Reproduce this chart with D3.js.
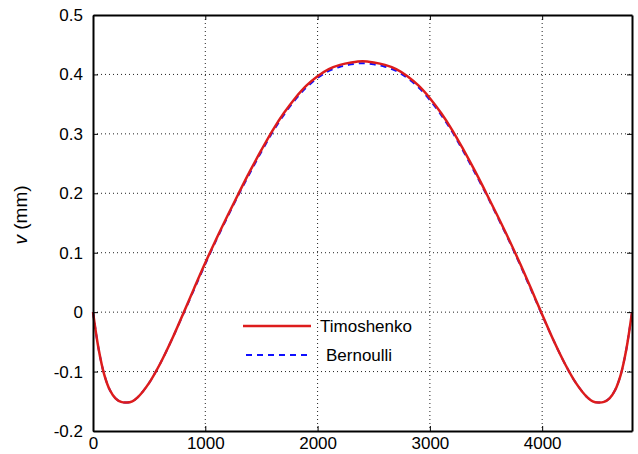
<!DOCTYPE html>
<html>
<head>
<meta charset="utf-8">
<script src="https://cdn.jsdelivr.net/npm/d3@7"></script>
<style>
  body { margin: 0; background: #fff; }
  text { font-family: "Liberation Sans", Arial, sans-serif; }
</style>
</head>
<body>
<div id="canvas"></div>
<script>
// position along the beam (mm)
var X = [0, 50, 100, 150, 200, 250, 300, 350, 400, 500, 600, 700, 800, 900, 1000,
         1100, 1200, 1300, 1400, 1500, 1600, 1700, 1800, 1900, 2000, 2100, 2200, 2300, 2400,
         2500, 2600, 2700, 2800, 2900, 3000, 3100, 3200, 3300, 3400, 3500, 3600, 3700, 3800,
         3900, 4000, 4100, 4200, 4300, 4400, 4450, 4500, 4550, 4600, 4650, 4700, 4750, 4800]

var Timoshenko = [0, -0.062, -0.105, -0.131, -0.145, -0.151, -0.152, -0.150, -0.143, -0.119, -0.086, -0.047, -0.004, 0.040, 0.083,
                  0.124, 0.163, 0.201, 0.238, 0.273, 0.306, 0.335, 0.360, 0.381, 0.397, 0.409, 0.416, 0.420, 0.422,
                  0.420, 0.416, 0.409, 0.397, 0.381, 0.360, 0.335, 0.306, 0.273, 0.238, 0.201, 0.163, 0.124, 0.083,
                  0.040, -0.004, -0.047, -0.086, -0.119, -0.143, -0.150, -0.152, -0.151, -0.145, -0.131, -0.105, -0.062, 0]

var Bernoulli  = [0, -0.062, -0.105, -0.131, -0.145, -0.151, -0.152, -0.150, -0.143, -0.119, -0.086, -0.047, -0.005, 0.038, 0.081,
                  0.122, 0.161, 0.199, 0.235, 0.270, 0.303, 0.332, 0.357, 0.378, 0.394, 0.406, 0.413, 0.417, 0.419,
                  0.417, 0.413, 0.406, 0.394, 0.378, 0.357, 0.332, 0.303, 0.270, 0.235, 0.199, 0.161, 0.122, 0.081,
                  0.038, -0.005, -0.047, -0.086, -0.119, -0.143, -0.150, -0.152, -0.151, -0.145, -0.131, -0.105, -0.062, 0]

var xTicks = [0, 1000, 2000, 3000, 4000]
var yTicks = [-0.2, -0.1, 0, 0.1, 0.2, 0.3, 0.4, 0.5]
var Names = ['Timoshenko', 'Bernoulli']

var W = 638, H = 454
var x0 = 93, x1 = 632, y0 = 15, y1 = 431

let Svg = d3.select('#canvas')
    .append('svg')
    .attr('width', W)
    .attr('height', H)

let xScale = d3.scaleLinear()
    .domain([0, 4800])
    .range([x0, x1])

let yScale = d3.scaleLinear()
    .domain([-0.2, 0.5])
    .range([y1, y0])

// grid
Svg.append('g').selectAll('line')
    .data(xTicks.slice(1))
    .enter().append('line')
    .attr('x1', d => xScale(d)).attr('x2', d => xScale(d))
    .attr('y1', y0).attr('y2', y1)
    .style('stroke', '#222').style('stroke-width', 1).style('stroke-dasharray', '1,3')

Svg.append('g').selectAll('line')
    .data(yTicks.slice(1, -1))
    .enter().append('line')
    .attr('x1', x0).attr('x2', x1)
    .attr('y1', d => yScale(d)).attr('y2', d => yScale(d))
    .style('stroke', '#222').style('stroke-width', 1).style('stroke-dasharray', '1,3')

// curves
let line = d3.line()
    .x((d, i) => xScale(X[i]))
    .y(d => yScale(d))
    .curve(d3.curveCatmullRom.alpha(0.5))

Svg.append('path').datum(Bernoulli)
    .attr('d', line)
    .style('fill', 'none').style('stroke', '#1010ff').style('stroke-width', 2)
    .style('stroke-dasharray', '6,5')

Svg.append('path').datum(Timoshenko)
    .attr('d', line)
    .style('fill', 'none').style('stroke', '#dd1c1c').style('stroke-width', 2.5)

// axes (ticks point inward)
let xAxis = d3.axisBottom(xScale).tickValues(xTicks).tickSizeInner(-5).tickSizeOuter(0).tickPadding(6)
    .tickFormat(d3.format('d'))
let yAxis = d3.axisLeft(yScale).tickValues(yTicks).tickSizeInner(-5).tickSizeOuter(0).tickPadding(10)
    .tickFormat(d => String(+d.toFixed(1)))

let gx = Svg.append('g').attr('transform', 'translate(0,' + y1 + ')').call(xAxis)
let gy = Svg.append('g').attr('transform', 'translate(' + x0 + ',0)').call(yAxis)
let gx2 = Svg.append('g').attr('transform', 'translate(0,' + y0 + ')')
    .call(d3.axisTop(xScale).tickValues(xTicks).tickSizeInner(-5).tickSizeOuter(0).tickFormat(''))
let gy2 = Svg.append('g').attr('transform', 'translate(' + x1 + ',0)')
    .call(d3.axisRight(yScale).tickValues(yTicks).tickSizeInner(-5).tickSizeOuter(0).tickFormat(''))

;[gx, gy, gx2, gy2].forEach(g => {
    g.select('.domain').style('stroke', '#000').style('stroke-width', 2)
    g.selectAll('.tick line').style('stroke', '#000').style('stroke-width', 1)
    g.selectAll('.tick text').style('font-size', '17px').style('fill', '#000')
        .style('font-family', '"Liberation Sans", Arial, sans-serif')
})

// legend
let leg = Svg.append('g')
leg.append('line').attr('x1', 243).attr('x2', 311).attr('y1', 326).attr('y2', 326)
    .style('stroke', '#dd1c1c').style('stroke-width', 2.5)
leg.append('line').attr('x1', 246).attr('x2', 309).attr('y1', 355).attr('y2', 355)
    .style('stroke', '#1010ff').style('stroke-width', 2).style('stroke-dasharray', '6,5')
leg.append('text').attr('x', 320).attr('y', 332).text(Names[0]).style('font-size', '17px')
leg.append('text').attr('x', 326).attr('y', 361).text(Names[1]).style('font-size', '17px')

// axis title
Svg.append('text')
    .attr('transform', 'translate(27,215) rotate(-90)')
    .attr('text-anchor', 'middle')
    .style('font-size', '19px')
    .html('<tspan font-style="italic">v</tspan> (mm)')
</script>
</body>
</html>
